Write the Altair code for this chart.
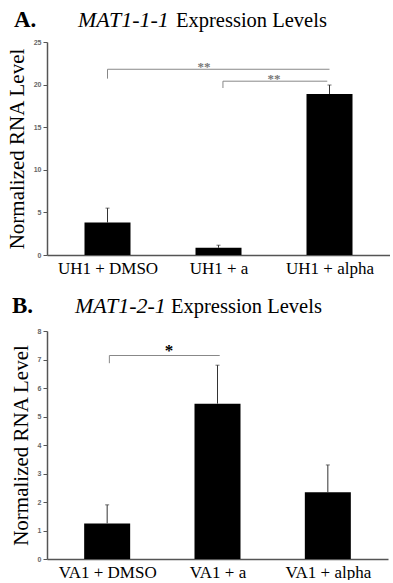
import altair as alt
import pandas as pd

SERIF = "Liberation Serif"
SANS = "Liberation Sans"

# ---------------- Panel A data ----------------
a_labels = ["UH1 + DMSO", "UH1 + a", "UH1 + alpha"]
a_values = [3.8, 0.85, 18.9]
a_err_top = [5.5, 1.15, 19.95]
a_br_start = [0.0, 1.04]
a_br_end = [2.0, 1.98]
a_br_y = [21.8, 20.4]
a_br_leg = [20.7, 19.6]
a_star_x = [0.87, 1.5]
a_star_y = [22.1, 20.7]
a_star_text = ["**", "**"]

# ---------------- Panel B data ----------------
b_labels = ["VA1 + DMSO", "VA1 + a", "VA1 + alpha"]
b_values = [1.25, 5.45, 2.34]
b_err_top = [1.9, 6.8, 3.3]
b_br_start = [0.02]
b_br_end = [1.02]
b_br_y = [7.14]
b_br_leg = [6.87]
b_star_x = [0.56]
b_star_y = [7.3]
b_star_text = ["*"]


def panel(letter, gene, labels, values, err_top, br_s, br_e, br_y, br_leg,
          st_x, st_y, st_t, ymax, ystep, width, height, star_color, star_size,
          letter_dx, base_dy, gene_dx, expr_dx):
    bars = pd.DataFrame({"i": list(range(len(labels))), "v": values, "e": err_top})
    br = pd.DataFrame({"s": br_s, "t": br_e, "by": br_y, "bl": br_leg})
    st = pd.DataFrame({"x": st_x, "y": st_y, "t": st_t})
    label_arr = "[" + ",".join("'" + l + "'" for l in labels) + "]"
    tick_vals = list(range(0, ymax + 1, ystep))

    xscale = alt.Scale(domain=[-0.5, len(labels) - 0.5], nice=False, zero=False)
    yscale = alt.Scale(domain=[0, ymax], nice=False)
    xaxis = alt.Axis(values=list(range(len(labels))), labelExpr=label_arr + "[datum.value]",
                     ticks=False, grid=False, title=None, labelFont=SERIF,
                     labelFontSize=17, labelColor="black", labelPadding=5,
                     labelFlush=False, labelOverlap=False, domainColor="#555",
                     domainWidth=1.5)
    yaxis = alt.Axis(values=tick_vals, grid=False,
                     title="Normalized RNA Level", titleFont=SERIF, titleFontSize=21,
                     titleFontWeight="normal", titleColor="black", titlePadding=6,
                     labelFont=SANS, labelFontSize=7, labelFontWeight="bold",
                     labelColor="#666", labelPadding=2, labelOverlap=False,
                     labelBound=False, labelFlush=False,
                     tickSize=4, tickColor="#555",
                     domainColor="#555", domainWidth=1.5)

    def X(f):
        return alt.X(f, scale=xscale, axis=xaxis)

    def Y(f):
        return alt.Y(f, scale=yscale, axis=yaxis)

    base = alt.Chart(bars)
    bar = base.mark_bar(size=46, color="black").encode(x=X("i:Q"), y=Y("v:Q"))
    err = base.mark_rule(color="#333", strokeWidth=1).encode(
        x=X("i:Q"), y=Y("v:Q"), y2="e:Q")
    cap = base.mark_tick(orient="horizontal", size=4, thickness=1, color="#333").encode(
        x=X("i:Q"), y=Y("e:Q"))

    bc = alt.Chart(br)
    hline = bc.mark_rule(color="#888", strokeWidth=1).encode(
        x=X("s:Q"), x2="t:Q", y=Y("by:Q"))
    leg = bc.mark_rule(color="#888", strokeWidth=1).encode(
        x=X("s:Q"), y=Y("by:Q"), y2="bl:Q")
    stars = alt.Chart(st).mark_text(font=SERIF, fontSize=star_size, fontWeight="bold",
                                    color=star_color, baseline="middle").encode(
        x=X("x:Q"), y=Y("y:Q"), text="t:N")

    one = pd.DataFrame({"k": [0]})
    t_letter = alt.Chart(one).mark_text(font=SERIF, fontSize=23, fontWeight="bold",
                                        align="left", baseline="alphabetic",
                                        color="black").encode(
        x=alt.value(letter_dx), y=alt.value(base_dy), text=alt.value(letter))
    t_gene = alt.Chart(one).mark_text(font=SERIF, fontSize=22, fontStyle="italic",
                                      align="left", baseline="alphabetic",
                                      color="black").encode(
        x=alt.value(gene_dx), y=alt.value(base_dy), text=alt.value(gene))
    t_expr = alt.Chart(one).mark_text(font=SERIF, fontSize=20.5, align="left",
                                      baseline="alphabetic", color="black").encode(
        x=alt.value(expr_dx), y=alt.value(base_dy), text=alt.value("Expression Levels"))

    return alt.layer(bar, err, cap, hline, leg, stars, t_letter, t_gene, t_expr).properties(
        width=width, height=height)


pa = panel("A.", "MAT1-1-1", a_labels, a_values, a_err_top, a_br_start, a_br_end,
           a_br_y, a_br_leg, a_star_x, a_star_y, a_star_text, 25, 5, 343, 213,
           "#777", 13, -33, -15, 31, 129)
pb = panel("B.", "MAT1-2-1", b_labels, b_values, b_err_top, b_br_start, b_br_end,
           b_br_y, b_br_leg, b_star_x, b_star_y, b_star_text, 8, 1, 341, 228,
           "black", 17, -35, -18, 28, 124)

chart = alt.vconcat(pa, pb, spacing=76, bounds="flush").properties(
    padding={"left": 6, "top": 9, "right": 0, "bottom": 0},
    background="white",
).configure_view(stroke=None).configure_axis(labelOverlap=False)

chart.save("out.html", embed_options={"renderer": "svg", "actions": False})
